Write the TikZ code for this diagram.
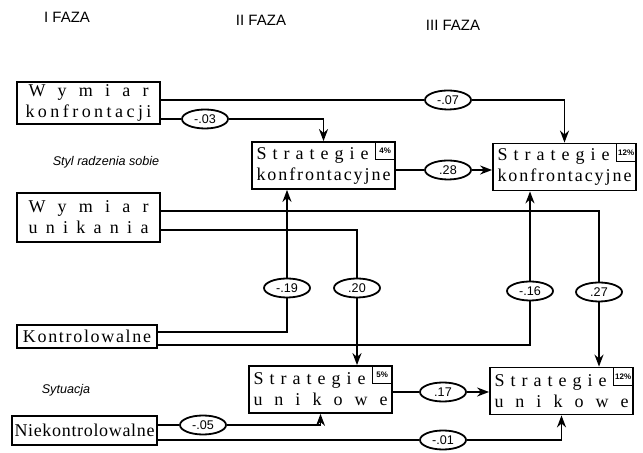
\documentclass[tikz,border=0pt]{standalone}
\usepackage{fontspec}
\setmainfont{Liberation Serif}
\setsansfont{Liberation Sans}
\usetikzlibrary{arrows.meta,calc,shapes.geometric}

% letters spread evenly over a given width
\makeatletter
\newcommand\spread[2]{\makebox[#1][s]{\spread@#2\relax}}
\def\spread@#1{#1\futurelet\spread@next\spread@@}
\def\spread@@{\ifx\spread@next\relax\expandafter\@gobble\else\hfill\expandafter\spread@\fi}
\makeatother

\begin{document}
\begin{tikzpicture}[
    x=0.5pt, y=-0.5pt,
    box/.style={draw, line width=0.9pt, inner sep=0pt, font=\fontsize{9}{10.5}\selectfont},
    strat/.style={box, text width=67pt, inner xsep=2.25pt, minimum height=23.5pt, align=left},
    dim/.style={box, minimum width=71.5pt, align=center},
    pct/.style={draw, line width=0.7pt, inner sep=0.8pt, minimum width=10pt, minimum height=9pt, font=\sffamily\bfseries\fontsize{4}{4}\selectfont},
    coef/.style={ellipse, draw, line width=0.9pt, fill=white, minimum width=23pt, minimum height=9.5pt, inner sep=0pt, font=\sffamily\fontsize{6.3}{7}\selectfont},
    arr/.style={-{Stealth[length=6pt,width=4.5pt]}, line width=0.9pt},
    phase/.style={font=\sffamily\fontsize{7.5}{8}\selectfont},
    tag/.style={font=\sffamily\itshape\fontsize{6.3}{7}\selectfont}
]
\useasboundingbox (0,0) rectangle (643,453);

% phases and side labels
\node[phase] (p1) at (67,17) {I FAZA};
\node[phase] (p2) at (261,20) {II FAZA};
\node[phase] (p3) at (453,25) {III FAZA};
\node[tag] (t1) at (106,162) {Styl radzenia sobie};
\node[tag] (t2) at (66,390) {Sytuacja};

% phase I
\node[dim, minimum height=21pt] (wk) at (88.5,103) {\spread{60pt}{Wymiar}\\\spread{63pt}{konfrontacji}};
\node[dim, minimum height=24.5pt] (wu) at (88.5,217.5) {\spread{60pt}{Wymiar}\\\spread{60pt}{unikania}};
\node[dim, minimum width=70pt, minimum height=11.5pt] (ko) at (87,336.5) {\spread{64pt}{Kontrolowalne}};
\node[dim, minimum width=72.5pt, minimum height=14.5pt] (nk) at (84.5,430.5) {\spread{70pt}{Niekontrolowalne}};

% phases II and III
\node[strat] (sk2) at (323.5,165.5) {\spread{56pt}{Strategie}\\\spread{67pt}{konfrontacyjne}};
\node[strat] (sk3) at (564.5,167) {\spread{56pt}{Strategie}\\\spread{67pt}{konfrontacyjne}};
\node[strat] (su2) at (320.5,389.5) {\spread{56pt}{Strategie}\\\spread{67pt}{unikowe}};
\node[strat] (su3) at (561.5,391) {\spread{56pt}{Strategie}\\\spread{67pt}{unikowe}};
\node[pct, anchor=north east] (sk2p) at (sk2.north east) {4\%};
\node[pct, anchor=north east] (sk3p) at (sk3.north east) {12\%};
\node[pct, anchor=north east] (su2p) at (su2.north east) {5\%};
\node[pct, anchor=north east] (su3p) at (su3.north east) {12\%};

% path coefficients
\foreach \n/\x/\y/\t in {e07/448/100/-.07, e03/205/119/-.03, e28/448/170/.28,
    e19/287/288/-.19, e20/357/288/.20, e16/530/291/-.16, e27/599/292/.27,
    e17/443/392/.17, e05/203/425/-.05, e01/443/440/-.01}
  \node[coef] (\n) at (\x,\y) {\t};

\draw[arr] (wk.east |- e07) -- (e07) -| (sk3.north);
\draw[arr] (wk.east |- e03) -- (e03) -| (sk2.north);
\draw[arr] ($(wu.east)+(0,-6.5)$) -| (e27) -- (e27 |- su3.north);
\draw[arr] ($(wu.east)+(0,12.5)$) -| (e20) -- (e20 |- su2.north);
\draw[arr] ($(ko.east)+(0,-4.5)$) -| (e19) -- (e19 |- sk2.south);
\draw[arr] ($(ko.east)+(0,8.5)$) -| (e16) -- (e16 |- sk3.south);
\draw[arr] (nk.east |- e05) -- (e05) -| (su2.south);
\draw[arr] (nk.east |- e01) -- (e01) -| (su3.south);
\foreach \i/\e/\j in {sk2/e28/sk3, su2/e17/su3}
  \draw[arr] (\i.east |- \e) -- (\e) -- (\j.west |- \e);
\end{tikzpicture}
\end{document}
